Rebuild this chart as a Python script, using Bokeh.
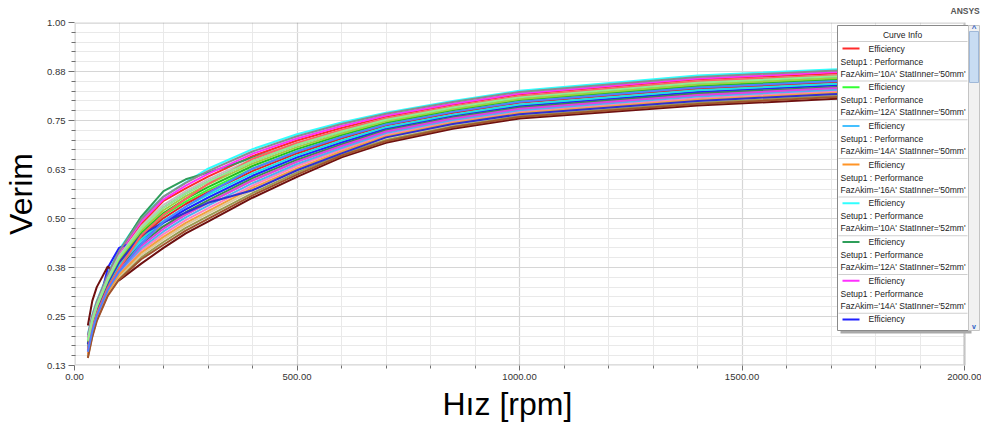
from bokeh.plotting import figure
from bokeh.models import Range1d, FixedTicker, BoxAnnotation, Label, Title
from bokeh.embed import file_html
from bokeh.resources import INLINE

# ---------------- data ----------------
x_rpm = [30, 40, 50, 75, 100, 150, 200, 250, 300, 400, 500, 600, 700, 850, 1000, 1400, 1700, 2000]

eff_01 = [.196, .246, .282, .351, .408, .486, .545, .577, .607, .659, .699, .731, .759, .790, .816, .854, .869, .880]
eff_02 = [.179, .231, .268, .336, .388, .458, .508, .543, .573, .627, .671, .708, .740, .772, .798, .834, .850, .861]
eff_03 = [.170, .222, .260, .327, .376, .441, .488, .523, .553, .609, .656, .694, .729, .762, .787, .823, .839, .851]
eff_04 = [.176, .228, .266, .333, .384, .453, .480, .510, .540, .597, .645, .685, .722, .755, .780, .815, .832, .844]
eff_05 = [.205, .255, .290, .360, .420, .503, .556, .592, .627, .677, .715, .745, .770, .800, .826, .865, .880, .890]
eff_06 = [.190, .245, .283, .356, .415, .505, .570, .600, .617, .655, .690, .722, .750, .781, .806, .843, .859, .869]
eff_07 = [.199, .249, .285, .354, .412, .492, .549, .584, .614, .665, .704, .736, .763, .793, .819, .857, .873, .883]
eff_08 = [.165, .218, .256, .375, .425, .447, .490, .523, .553, .609, .656, .694, .729, .762, .787, .823, .839, .851]
eff_09 = [.227, .290, .325, .378, .342, .385, .425, .462, .492, .553, .606, .656, .693, .729, .755, .788, .805, .818]
eff_10 = [.147, .201, .241, .306, .348, .401, .440, .476, .506, .565, .617, .664, .701, .736, .762, .796, .813, .825]
eff_11 = [.202, .252, .288, .357, .416, .498, .556, .591, .621, .671, .710, .741, .767, .797, .823, .861, .877, .887]
eff_12 = [.150, .204, .244, .309, .352, .407, .447, .483, .513, .572, .623, .669, .705, .740, .766, .800, .817, .829]
eff_13 = [.157, .210, .249, .315, .360, .419, .460, .496, .526, .584, .634, .676, .714, .748, .773, .807, .824, .836]
eff_14 = [.189, .240, .277, .345, .400, .475, .528, .564, .594, .646, .688, .722, .752, .783, .809, .846, .862, .872]
eff_15 = [.176, .228, .266, .333, .384, .453, .501, .537, .567, .621, .666, .704, .737, .769, .795, .831, .847, .858]
eff_16 = [.183, .234, .271, .339, .392, .464, .514, .550, .580, .634, .677, .713, .744, .776, .802, .838, .854, .865]
eff_17 = [.160, .213, .252, .318, .364, .424, .467, .503, .533, .590, .639, .680, .718, .751, .776, .811, .828, .840]
eff_18 = [.153, .207, .246, .312, .356, .413, .453, .489, .519, .578, .628, .671, .710, .744, .769, .803, .820, .832]
eff_19 = [.173, .225, .263, .330, .380, .447, .494, .530, .560, .615, .661, .699, .733, .765, .791, .827, .843, .854]
eff_20 = [.166, .219, .257, .324, .372, .435, .480, .516, .546, .603, .650, .689, .725, .758, .783, .819, .835, .847]
eff_21 = [.163, .216, .255, .321, .368, .430, .474, .510, .540, .597, .645, .685, .722, .755, .780, .815, .832, .844]
eff_22 = [.179, .231, .268, .336, .388, .458, .490, .515, .540, .572, .623, .666, .707, .741, .766, .800, .817, .829]
eff_23 = [.144, .198, .238, .303, .344, .396, .433, .469, .499, .559, .612, .660, .697, .733, .759, .792, .809, .822]
eff_24 = [.186, .237, .274, .342, .396, .469, .521, .557, .587, .640, .682, .717, .748, .779, .805, .842, .858, .868]
eff_25 = [.192, .243, .279, .348, .404, .480, .535, .570, .600, .652, .693, .726, .755, .786, .812, .850, .865, .876]
eff_26 = [.166, .219, .257, .324, .372, .457, .510, .550, .588, .652, .693, .726, .755, .786, .812, .850, .865, .876]
eff_27 = [.160, .213, .252, .318, .364, .435, .492, .530, .565, .627, .671, .708, .740, .772, .798, .834, .850, .861]
eff_28 = [.189, .240, .277, .345, .400, .475, .528, .564, .594, .646, .688, .722, .752, .783, .809, .846, .862, .872]

curves = [eff_01, eff_02, eff_03, eff_04, eff_05, eff_06, eff_07, eff_08, eff_09, eff_10,
          eff_11, eff_12, eff_13, eff_14, eff_15, eff_16, eff_17, eff_18, eff_19, eff_20,
          eff_21, eff_22, eff_23, eff_24, eff_25, eff_26, eff_27, eff_28]

curve_colors = ["#FF2a2a", "#33FF33", "#45C0FF", "#FF9426", "#30FFFF", "#2E9E5A", "#FF30FF",
                "#2020FF", "#6E1010", "#9A9A50", "#8C8C8C", "#D9C9A0", "#FF7FBF", "#8A3CC8",
                "#E02828", "#20C020", "#50B0F0", "#F0A040", "#20E0E0", "#3A8A50", "#E040E0",
                "#3030D0", "#A0522D", "#A0D040", "#C0C0C0", "#FF6060", "#5080FF", "#90EE90"]

faz_akim = ["10A", "12A", "14A", "16A"] * 7
stat_inner = [s for s in ["50mm", "52mm", "54mm", "56mm", "58mm", "60mm", "62mm"] for _ in range(4)]
trace_name = "Efficiency"
setup_name = "Setup1 : Performance"

x_ticks = [0, 500, 1000, 1500, 2000]
x_tick_labels = ["0.00", "500.00", "1000.00", "1500.00", "2000.00"]
y_ticks = [0.125, 0.25, 0.375, 0.5, 0.625, 0.75, 0.875, 1.0]
y_tick_labels = ["0.13", "0.25", "0.38", "0.50", "0.63", "0.75", "0.88", "1.00"]

# ---------------- figure ----------------
FONT = "Liberation Sans"
X_END = 2000 * (981 - 72) / (964 - 72)   # frame runs to the page edge; data area ends at 2000
p = figure(width=981, height=437, output_backend="svg", toolbar_location=None,
           x_range=Range1d(0, X_END), y_range=Range1d(0.125, 1.0),
           min_border_left=72, min_border_right=0, min_border_top=22, min_border_bottom=72)
p.background_fill_color = "white"
p.border_fill_color = "white"
p.outline_line_color = None

p.title.text = "ANSYS"
p.title.text_font = FONT
p.title.text_font_size = "8.5px"
p.title.text_font_style = "bold"
p.title.text_color = "#555555"
p.title.align = "left"
p.title.offset = 876
p.title.standoff = 9
p.title.vertical_align = "top"

x_minor = [v for v in range(100, 2000, 100) if v % 500 != 0]
y_minor = [round(0.125 + 0.025 * i, 4) for i in range(1, 35) if i % 5 != 0]
xt = FixedTicker(ticks=x_ticks, minor_ticks=x_minor)
yt = FixedTicker(ticks=y_ticks, minor_ticks=y_minor)
p.xaxis.ticker = xt
p.yaxis.ticker = yt
p.xgrid.ticker = xt
p.ygrid.ticker = yt
p.xaxis.major_label_overrides = dict(zip(x_ticks, x_tick_labels))
p.yaxis.major_label_overrides = dict(zip(y_ticks, y_tick_labels))
p.xaxis.bounds = (0, 2000)
p.yaxis.bounds = (0.125, 1.0)

for g in (p.xgrid[0], p.ygrid[0]):
    g.grid_line_color = "#d6d6d6"
    g.grid_line_width = 1.2
    g.minor_grid_line_color = "#e9e9e9"
    g.minor_grid_line_width = 1

for ax in (p.xaxis[0], p.yaxis[0]):
    ax.axis_line_color = None
    ax.major_tick_line_color = "#6f6f6f"
    ax.minor_tick_line_color = "#6f6f6f"
    ax.major_label_text_font = FONT
    ax.major_label_text_font_size = "9.5px"
    ax.major_label_text_color = "#333333"
    ax.major_label_standoff = 3

p.yaxis.axis_label = "Verim"
p.yaxis.axis_label_text_font = FONT
p.yaxis.axis_label_text_font_size = "32px"
p.yaxis.axis_label_text_font_style = "normal"
p.yaxis.axis_label_text_color = "black"
p.yaxis.axis_label_standoff = 5

# x-axis title as a below-panel title so it can sit where the reference has it
x_title = Title(text="Hız [rpm]", align="left", offset=368, standoff=3,
                text_font=FONT, text_font_size="32px", text_font_style="normal",
                text_color="black", vertical_align="bottom")
p.add_layout(x_title, "below")

p.yaxis.major_tick_out = 6
p.yaxis.major_tick_in = 0
p.yaxis.minor_tick_out = 3
p.yaxis.minor_tick_in = 1
p.xaxis.major_tick_out = 5
p.xaxis.major_tick_in = 0
p.xaxis.minor_tick_out = 3
p.xaxis.minor_tick_in = 0

for vals, col in zip(curves, curve_colors):
    p.line(x_rpm, vals, line_color=col, line_width=2)

# blank area right of the 2000 rpm border, then the plot border itself
p.add_layout(BoxAnnotation(left=2000, right=X_END + 10, bottom=0.0, top=1.2,
                           fill_color="white", fill_alpha=1.0, line_color=None))
p.add_layout(BoxAnnotation(left=0, right=2000, bottom=0.125, top=1.0,
                           fill_color=None, fill_alpha=0, line_color="#6f6f6f", line_width=2.5))

# frame-relative screen coordinates (frame left=72, bottom=365 in page pixels)
def fx(v):
    return v - 72

def fy(v):
    return 365 - v

def box(l, t, r, b, fill, line=None, lw=1):
    p.add_layout(BoxAnnotation(left=fx(l), right=fx(r), top=fy(t), bottom=fy(b),
                               left_units="screen", right_units="screen",
                               top_units="screen", bottom_units="screen",
                               fill_color=fill, fill_alpha=1.0,
                               line_color=line, line_width=lw, line_alpha=1.0))

def label(x, y, text, size="8.5px", align="left", color="#222222", style="normal"):
    p.add_layout(Label(x=fx(x), y=fy(y), x_units="screen", y_units="screen", text=text,
                       text_font=FONT, text_font_size=size, text_align=align,
                       text_baseline="middle", text_color=color, text_font_style=style))

# legend ("Curve Info" panel)
box(838, 28, 969, 333, "#a9a9a9")                 # shadow
box(835, 25, 966, 330, "white", "#8a8a8a", 1)
box(966, 25, 977, 330, "#f1f1f1", "#c4c4c4", 1)   # scrollbar track
box(967, 31, 976, 82, "#c8dcf2", "#9fb8d8", 1)    # thumb
label(971.5, 28, "^", size="8px", align="center", color="#2a5bc4", style="bold")
label(971.5, 326, "v", size="7px", align="center", color="#2a5bc4", style="bold")

label(900, 34, "Curve Info", align="center")
box(836, 40.5, 965, 41.5, "#cfcfcf")

pitch = 38.7
for k in range(8):
    y0 = 48 + pitch * k
    box(840, y0 - 1, 857, y0 + 1, curve_colors[k])
    label(866, y0, trace_name)
    if k < 7:
        label(838, y0 + 13, setup_name)
        label(838, y0 + 25, "FazAkim='%s' StatInner='%s'" % (faz_akim[k], stat_inner[k]))
        box(836, y0 + 32, 965, y0 + 33, "#cfcfcf")

open("out.html", "w").write(file_html(p, INLINE))
